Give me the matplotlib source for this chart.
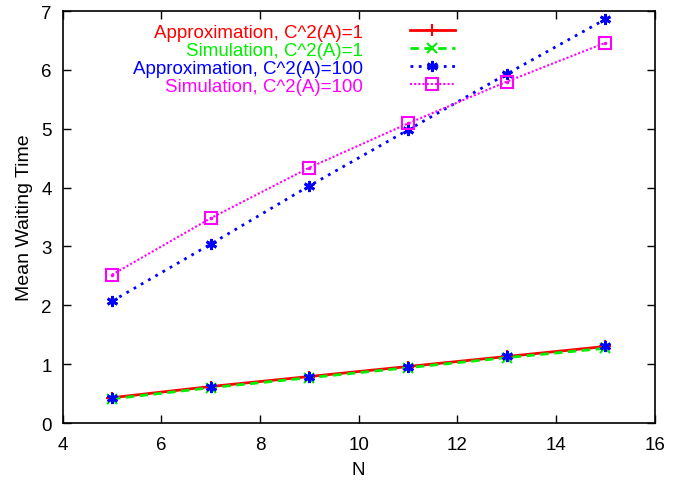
import matplotlib
matplotlib.use("Agg")
import matplotlib.pyplot as plt

plt.rcParams['font.family'] = ['Liberation Sans', 'DejaVu Sans']

N = [5, 7, 9, 11, 13, 15]
approx_c1 = [0.43, 0.62, 0.79, 0.96, 1.13, 1.30]
sim_c1 = [0.41, 0.60, 0.77, 0.94, 1.11, 1.27]
approx_c100 = [2.07, 3.04, 4.03, 4.98, 5.93, 6.86]
sim_c100 = [2.52, 3.48, 4.34, 5.09, 5.80, 6.46]

labels = ["Approximation, C^2(A)=1", "Simulation, C^2(A)=1",
          "Approximation, C^2(A)=100", "Simulation, C^2(A)=100"]
xticks = [4, 6, 8, 10, 12, 14, 16]
yticks = [0, 1, 2, 3, 4, 5, 6, 7]

FS = 13.5

fig = plt.figure(figsize=(6.82, 4.81), dpi=100)
ax = fig.add_axes([0.092, 0.1185, 0.868, 0.8565])

ast = (6, 2, 0)
ax.plot(N, approx_c1, color='#ff0000', lw=2, ls='-', marker='+', ms=8, mew=1.5, label=labels[0])
ax.plot(N, sim_c1, color='#00ee00', lw=2, ls=(0, (3, 2)), marker='x', ms=7, mew=1.5, label=labels[1])
ax.plot(N, approx_c1, ls='none', marker=ast, ms=8, mew=2, color='#0000ff')
ax.plot(N, approx_c100, color='#0000ff', lw=2, ls=(0, (1, 2)), marker=ast, ms=8, mew=2, label=labels[2])
ax.plot(N, sim_c100, color='#ff00ff', lw=1.5, ls=(0, (1, 1)), marker='s', ms=8, mew=1.5,
        mfc='none', label=labels[3])
ax.plot(N, sim_c100, ls='none', marker='.', ms=3, color='#ff00ff')

ax.set_xlim(4, 16)
ax.set_ylim(0, 7)
ax.set_xticks(xticks)
ax.set_yticks(yticks)
ax.tick_params(direction='in', top=True, right=True, length=6, labelsize=FS, width=1)
ax.tick_params(axis='x', pad=9)
ax.tick_params(axis='y', pad=8)
for s in ax.spines.values():
    s.set_linewidth(1.2)
ax.set_xlabel("N", fontsize=FS, labelpad=6)
ax.set_ylabel("Mean Waiting Time", fontsize=14, labelpad=6)

leg = ax.legend(loc='upper right', bbox_to_anchor=(0.662, 0.97), frameon=False, markerfirst=False,
                labelcolor='linecolor', fontsize=FS, handlelength=2.4, handletextpad=2.5,
                labelspacing=0.05, borderaxespad=0, borderpad=0)
for t in leg.get_texts():
    t.set_ha('right')
leg._legend_box.align = 'right'

fig.savefig("out.png", dpi=100)
